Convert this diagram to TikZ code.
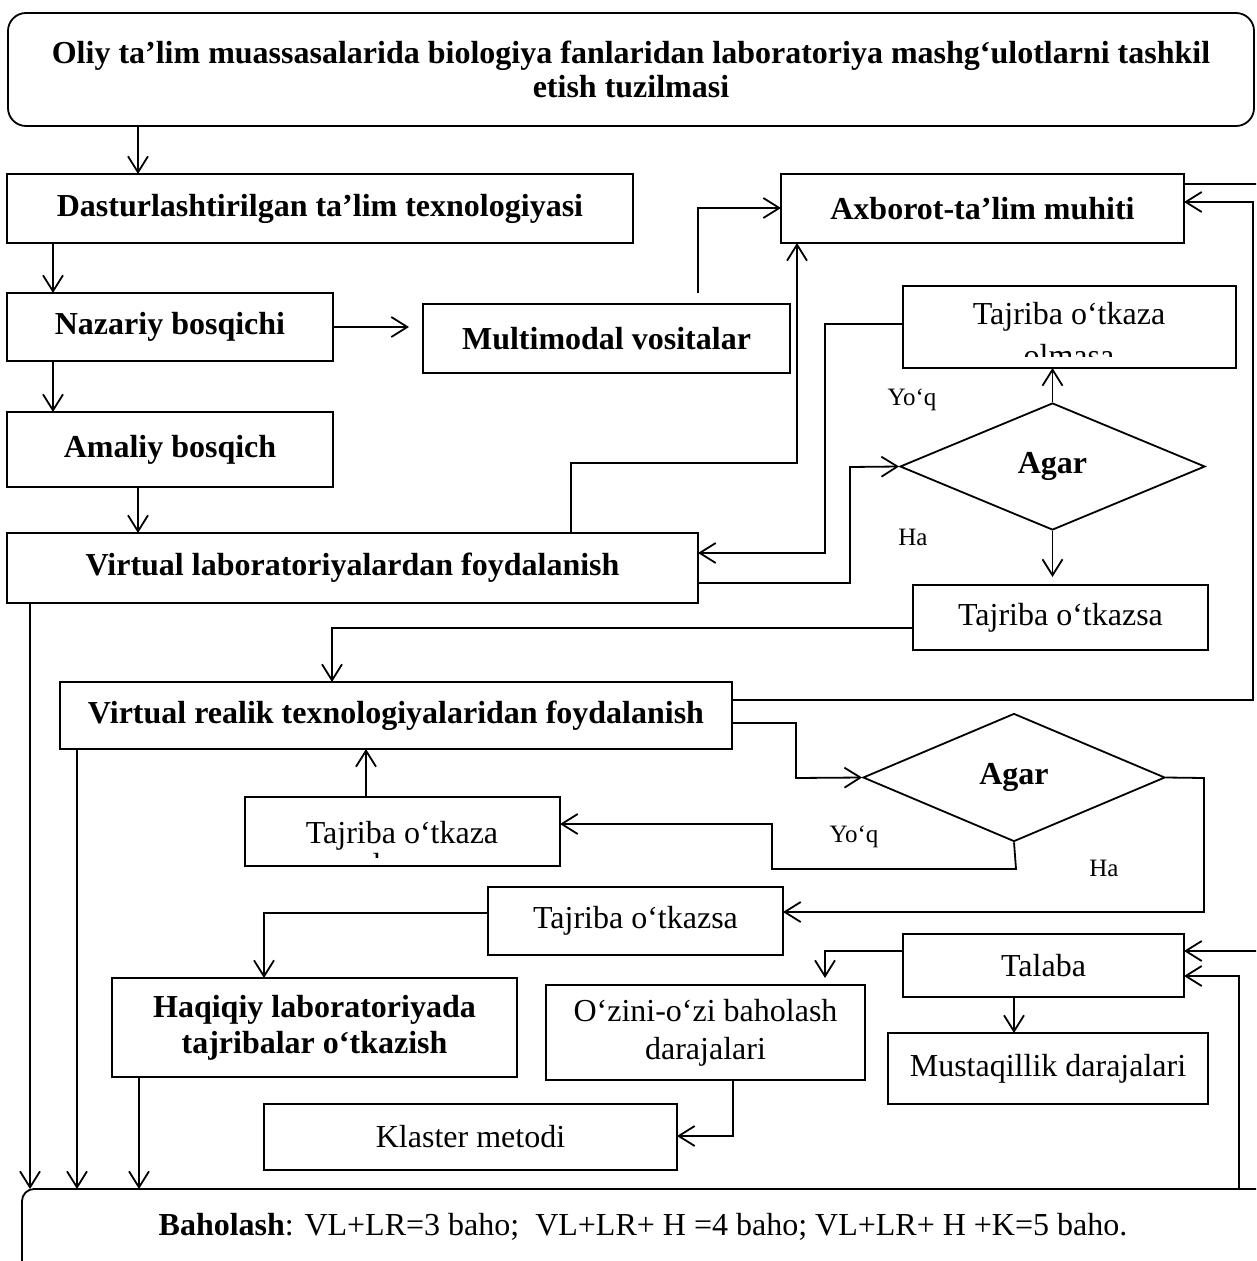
\documentclass[tikz,border=0pt]{standalone}
\usepackage{fontspec}
\setmainfont{Liberation Serif}
\usetikzlibrary{arrows.meta,shapes.geometric}
\newcommand\mybox[7]{\node[box,minimum width={(#4-#2)*0.5pt},minimum height={(#5-#3)*0.5pt},#6] (#1) at (#2,#3) {#7};}
\begin{document}
\begin{tikzpicture}[x=0.5pt,y=-0.5pt,
  every node/.style={font=\fontsize{16pt}{18pt}\selectfont},
  box/.style={draw, line width=0.9pt, inner sep=0pt, outer sep=0pt, anchor=north west, align=center},
  bt/.style={font=\fontsize{16pt}{18pt}\selectfont\bfseries},
  lbl/.style={font=\fontsize{12.5pt}{14pt}\selectfont, inner sep=0pt},
  arr/.style={line width=0.9pt, -{Straight Barb[length=8pt,width=10pt,line width=0.9pt]}},
  ln/.style={line width=0.9pt},
]
\useasboundingbox (0,0) rectangle (1256,1261);
\clip (0,0) rectangle (1256,1261);

% boxes
\mybox{title}{8}{13}{1254}{126}{rounded corners=9pt,bt,font=\fontsize{16pt}{17pt}\selectfont\bfseries}{Oliy ta’lim muassasalarida biologiya fanlaridan laboratoriya mashg‘ulotlarni tashkil\\etish tuzilmasi}
\mybox{dast}{7}{174}{633}{243}{bt}{Dasturlashtirilgan ta’lim texnologiyasi}
\mybox{axb}{781}{174}{1184}{243}{bt}{Axborot-ta’lim muhiti}
\mybox{naz}{7}{293}{333}{361}{bt}{Nazariy bosqichi}
\mybox{mm}{423}{304}{790}{373}{bt}{Multimodal vositalar}
\mybox{ama}{7}{412}{333}{487}{bt}{Amaliy bosqich}
\mybox{vl}{7}{533}{698}{603}{bt}{Virtual laboratoriyalardan foydalanish}
\mybox{tko1}{903}{286}{1236}{368}{}{}
\mybox{tks1}{913}{585}{1208}{650}{}{Tajriba o‘tkazsa}
\mybox{vr}{60}{682}{732}{749}{bt}{Virtual realik texnologiyalaridan foydalanish}
\mybox{tko2}{245}{797}{560}{866}{}{}
\mybox{tks2}{488}{887}{783}{955}{}{Tajriba o‘tkazsa}
\mybox{haq}{112}{978}{517}{1077}{bt}{Haqiqiy laboratoriyada\\tajribalar o‘tkazish}
\mybox{ozo}{546}{985}{865}{1080}{font=\fontsize{16pt}{19pt}\selectfont}{O‘zini-o‘zi baholash\\darajalari}
\mybox{tal}{903}{934}{1184}{997}{}{Talaba}
\mybox{mus}{888}{1033}{1208}{1104}{}{Mustaqillik darajalari}
\mybox{kla}{264}{1104}{677}{1170}{}{Klaster metodi}
\mybox{bah}{22}{1189}{1300}{1330}{rounded corners=6pt}{}
\node (baht) at (643,1227) {\textbf{Baholash}: VL+LR=3 baho;\ \ VL+LR+ H =4 baho; VL+LR+ H +K=5 baho.};

% clipped two-line texts
\begin{scope}
\clip (903,286) rectangle (1236,357);
\node[anchor=base] (tko1a) at (1069,325) {Tajriba o‘tkaza};
\node[anchor=base] (tko1b) at (1069,367) {olmasa};
\end{scope}
\begin{scope}
\clip (245,797) rectangle (560,857);
\node[anchor=base] (tko2a) at (402,843) {Tajriba o‘tkaza};
\node[anchor=base] (tko2b) at (402,875) {olmasa};
\end{scope}

% diamonds
\node[diamond, draw, line width=0.9pt, inner sep=0pt, minimum width={305*0.5pt}, minimum height={127*0.5pt}, bt] (dia1) at (1052.5,466.5) {Agar};
\node[diamond, draw, line width=0.9pt, inner sep=0pt, minimum width={302*0.5pt}, minimum height={128*0.5pt}, bt] (dia2) at (1014,777.5) {Agar};

% labels
\node[lbl] (y1) at (912,400) {Yo‘q};
\node[lbl] (h1) at (913,537) {Ha};
\node[lbl] (y2) at (854,837) {Yo‘q};
\node[lbl] (h2) at (1104,868) {Ha};

% connectors
\draw[arr] (138,0 |- title.south) -- (138,0 |- dast.north);
\draw[arr] (53,0 |- dast.south) -- (53,0 |- naz.north);
\draw[arr, shorten >=7pt] (naz.east) -- (naz.east -| mm.west);
\draw[arr] (53,0 |- naz.south) -- (53,0 |- ama.north);
\draw[arr] (138,0 |- ama.south) -- (138,0 |- vl.north);
\draw[arr, shorten <=5.5pt] (698,0 |- mm.north) -- (698,208) -- (axb.west |- 0,208);
\draw[arr] (571,0 |- vl.north) -- (571,463) -- (797,463) -- (797,0 |- axb.south);
\draw[arr] (tko1.west |- 0,324) -- (825,324) -- (825,553) -- (vl.east |- 0,553);
\draw[arr] (vl.east |- 0,583) -- (850,583) -- (850,467) -- (dia1.west);
\draw[arr] (dia1.north) -- (dia1.north |- tko1.south);
\draw[arr, shorten >=4pt] (dia1.south) -- (dia1.south |- tks1.north);
\draw[arr] (tks1.west |- 0,628) -- (332,628) -- (332,0 |- vr.north);
\draw[arr] (vr.east |- 0,700) -- (1253,700) -- (1253,202) -- (axb.east |- 0,202);
\draw[ln] (axb.east |- 0,184) -- (1262,184);
\draw[arr] (vr.east |- 0,723) -- (796,723) -- (796,778) -- (dia2.west);
\draw[arr] (dia2.south) -- (1016,869) -- (772,869) -- (772,824) -- (tko2.east |- 0,824);
\draw[arr] (dia2.east) -- (1204,778) -- (1204,912) -- (tks2.east |- 0,912);
\draw[arr] (366,0 |- tko2.north) -- (366,0 |- vr.south);
\draw[arr] (tks2.west |- 0,913) -- (264,913) -- (264,0 |- haq.north);
\draw[arr] (30,0 |- vl.south) -- (30,0 |- bah.north);
\draw[arr] (77,0 |- vr.south) -- (77,0 |- bah.north);
\draw[arr] (139,0 |- haq.south) -- (139,0 |- bah.north);
\draw[arr, shorten >=3.5pt] (tal.west |- 0,951) -- (825,951) -- (825,0 |- ozo.north);
\draw[arr] (1014,0 |- tal.south) -- (1014,0 |- mus.north);
\draw[arr] (733,0 |- ozo.south) -- (733,1136) -- (kla.east |- 0,1136);
\draw[arr] (1262,951) -- (tal.east |- 0,951);
\draw[arr] (1239,0 |- bah.north) -- (1239,976) -- (tal.east |- 0,976);
\end{tikzpicture}
\end{document}
